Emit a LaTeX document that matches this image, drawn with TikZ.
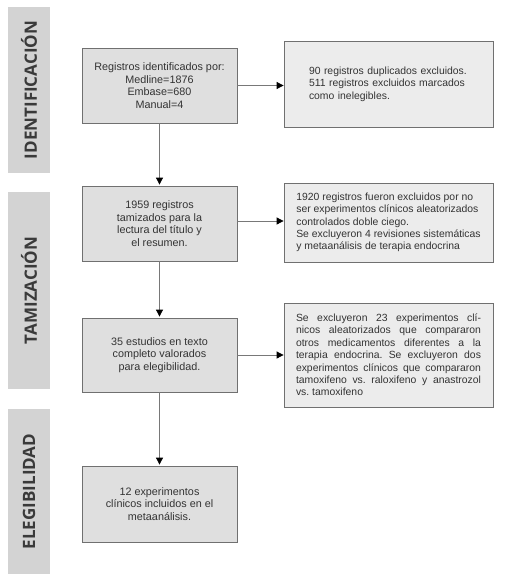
\documentclass[tikz,border=0pt]{standalone}
\usepackage{fontspec}
\setmainfont{Liberation Sans}
\newfontfamily\bandfont{Open Sans}
\definecolor{bb}{RGB}{223, 223, 223}
\definecolor{rr}{RGB}{236, 236, 236}
\definecolor{ll}{RGB}{112, 112, 112}
\definecolor{ss}{RGB}{211, 211, 211}
\definecolor{tt}{RGB}{58, 58, 58}
\definecolor{kk}{RGB}{120, 120, 120}
\usetikzlibrary{positioning,arrows.meta}
\frenchspacing
\tikzset{
  leftbox/.style={rectangle, draw=ll, fill=bb, line width=0.8pt, minimum width=155pt, align=center, text=black!80, font=\fontsize{10.8}{12.6}\selectfont},
  rightbox/.style={rectangle, draw=ll, fill=rr, line width=0.8pt, minimum width=209pt, text=black!80, font=\fontsize{10.4}{12.4}\selectfont},
  band/.style={rectangle, fill=ss, minimum height=42pt, rotate=90, text=tt, font=\bandfont\bfseries\fontsize{17}{17}\selectfont},
  flow/.style={draw=kk, line width=0.8pt, -{Triangle[length=7pt,width=7pt,color=black]}}
}

\begin{document}
\begin{tikzpicture}[x=1pt,y=-1pt]
\useasboundingbox (0,0) rectangle (512,584);

% side bands
\node[band, minimum width=166pt] (P) at (29,90) {IDENTIFICACIÓN};
\node[band, minimum width=197pt] (Q) at (29,290.5) {TAMIZACIÓN};
\node[band, minimum width=165pt] (R) at (29,491.5) {ELEGIBILIDAD};

% main column
\node[leftbox, minimum height=75pt] (A) at (159.5,85.5) {Registros identificados por:\\ Medline=1876\\ Embase=680\\ Manual=4};
\node[leftbox, minimum height=75pt] (B) at (159.5,223.5) {1959 registros\\ tamizados para la\\ lectura del título y\\ el resumen.};
\node[leftbox, minimum height=74pt] (C) at (159.5,355) {35 estudios en texto\\ completo valorados\\ para elegibilidad.};
\node[leftbox, minimum height=76pt] (D) at (159.5,504) {12 experimentos\\ clínicos incluidos en el\\ metaanálisis.};

% exclusions
\node[rightbox, minimum height=86pt, inner xsep=25pt, text width=159pt, align=left] (E) at (388.5,84) {90 registros duplicados excluidos.\\ 511 registros excluidos marcados\\ como inelegibles.};
\node[rightbox, minimum height=79pt, align=left] (F) at (388.5,222.5) {1920 registros fueron excluidos por no\\ ser experimentos clínicos aleatorizados\\ controlados doble ciego.\\ Se excluyeron 4 revisiones sistemáticas\\ y metaanálisis de terapia endocrina};
\node[rightbox, minimum height=104pt, inner xsep=12pt, text width=185pt, align=justify] (G) at (388.5,355) {Se excluyeron 23 experimentos clí-\linebreak nicos aleatorizados que compararon\linebreak otros medicamentos diferentes a la\linebreak terapia endocrina. Se excluyeron dos\linebreak experimentos clínicos que compararon\linebreak tamoxifeno vs. raloxifeno y anastrozol\linebreak vs. tamoxifeno};

\draw[flow, shorten >=1pt] (A) -- (B);
\draw[flow, shorten >=1pt] (B) -- (C);
\draw[flow, shorten >=1pt] (C) -- (D);
\draw[flow] (A.east) -- (A.east -| E.west);
\draw[flow] ([yshift=2.5pt]B.east) -- ([yshift=2.5pt]B.east -| F.west);
\draw[flow] (C.east) -- (C.east -| G.west);

\end{tikzpicture}
\end{document}
